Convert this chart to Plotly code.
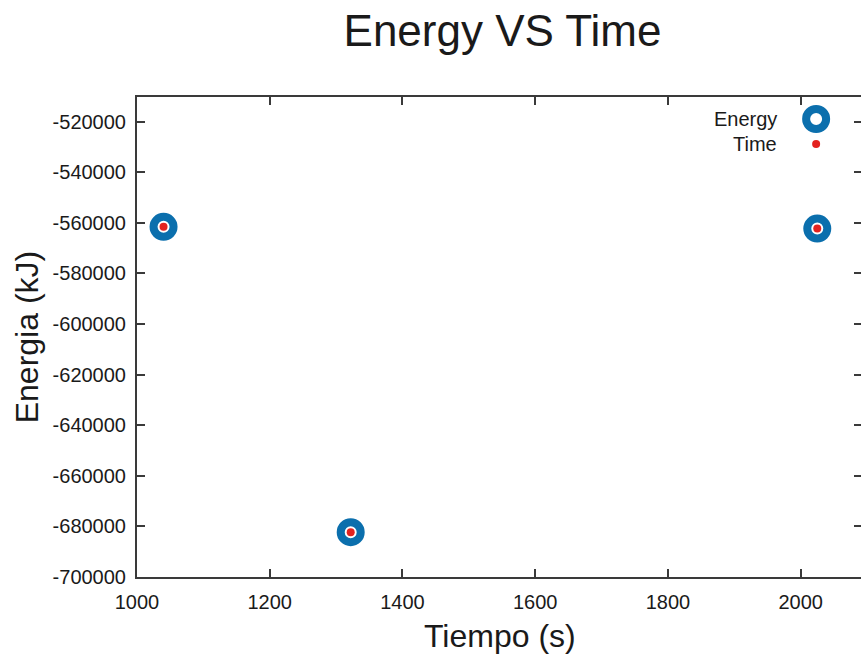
import plotly.graph_objects as go

# Data
tiempo = [1040, 1322, 2025]
energia = [-561600, -682300, -562300]

x_ticks = [1000, 1200, 1400, 1600, 1800, 2000]
y_ticks = [-700000, -680000, -660000, -640000, -620000, -600000,
           -580000, -560000, -540000, -520000]

BLUE = "#0b6fad"
RED = "#e3221f"
AXC = "#3a3a3a"
FONT = "Liberation Sans"
TXT = "#1a1a1a"

# The right border of the reference lies just past the picture's edge,
# so the figure is drawn slightly wider and the page clips it.
W, H = 866, 655
PL, PT, PR, PB = 137, 97, 864, 577  # plot area in screen pixels

fig = go.Figure()
fig.add_trace(go.Scatter(
    x=tiempo, y=energia, mode="markers", name="Energy",
    marker=dict(symbol="circle-open", size=20, color=BLUE,
                line=dict(width=8, color=BLUE)),
))
fig.add_trace(go.Scatter(
    x=tiempo, y=energia, mode="markers", name="Time",
    marker=dict(symbol="circle", size=8, color=RED, line=dict(width=0)),
))

axis_common = dict(
    showgrid=False, zeroline=False, showline=True, linecolor=AXC, linewidth=2,
    mirror="allticks", ticks="inside", ticklen=8, tickwidth=1.5, tickcolor=AXC,
    tickfont=dict(family=FONT, size=20, color=TXT),
)

fig.update_xaxes(range=[1000, 2092.4], tickvals=x_ticks,
                 ticktext=[str(v) for v in x_ticks], ticklabelstandoff=6,
                 **axis_common)
fig.update_yaxes(range=[-700000, -510300], tickvals=y_ticks,
                 ticktext=[str(v) for v in y_ticks], ticklabelstandoff=5,
                 **axis_common)

pw, ph = PR - PL, PB - PT
lx = (818 - PL) / pw
ly1 = (PB - 119) / ph
ly2 = (PB - 144) / ph
tx = (781 - PL) / pw
fig.add_shape(type="circle", xref="paper", yref="paper",
              xsizemode="pixel", ysizemode="pixel", xanchor=lx, yanchor=ly1,
              x0=-10, x1=10, y0=-10, y1=10,
              line=dict(color=BLUE, width=8), fillcolor="white")
fig.add_shape(type="circle", xref="paper", yref="paper",
              xsizemode="pixel", ysizemode="pixel", xanchor=lx, yanchor=ly2,
              x0=-4, x1=4, y0=-4, y1=4,
              line=dict(color=RED, width=0), fillcolor=RED)

annotations = [
    dict(text="Energy", x=tx, y=ly1, xref="paper", yref="paper",
         xanchor="right", yanchor="middle", showarrow=False,
         font=dict(family=FONT, size=20, color=TXT)),
    dict(text="Time", x=tx, y=ly2, xref="paper", yref="paper",
         xanchor="right", yanchor="middle", showarrow=False,
         font=dict(family=FONT, size=20, color=TXT)),
    dict(text="Tiempo (s)", x=(501 - PL) / pw, y=(PB - 636) / ph,
         xref="paper", yref="paper", xanchor="center", yanchor="middle",
         showarrow=False, font=dict(family=FONT, size=32, color=TXT)),
    dict(text="Energia (kJ)", x=(27 - PL) / pw, y=0.5, textangle=-90,
         xref="paper", yref="paper", xanchor="center", yanchor="middle",
         showarrow=False, font=dict(family=FONT, size=32, color=TXT)),
]

fig.update_layout(
    width=W, height=H,
    margin=dict(l=PL, r=W - PR, t=PT, b=H - PB),
    paper_bgcolor="white", plot_bgcolor="white",
    showlegend=False,
    title=dict(text="Energy VS Time", x=502.5 / W, xref="container",
               xanchor="center", y=1 - 31 / H, yanchor="middle",
               font=dict(family=FONT, size=44, color=TXT)),
    annotations=annotations,
)

post = (
    "document.documentElement.style.margin='0';"
    "document.documentElement.style.overflow='hidden';"
    "document.body.style.margin='0';"
    "document.body.style.overflow='hidden';"
    "Plotly.relayout('{plot_id}', {width: %d, height: %d});" % (W, H)
)

fig.write_html("out.html", post_script=post,
               config={"displayModeBar": False, "responsive": False})
